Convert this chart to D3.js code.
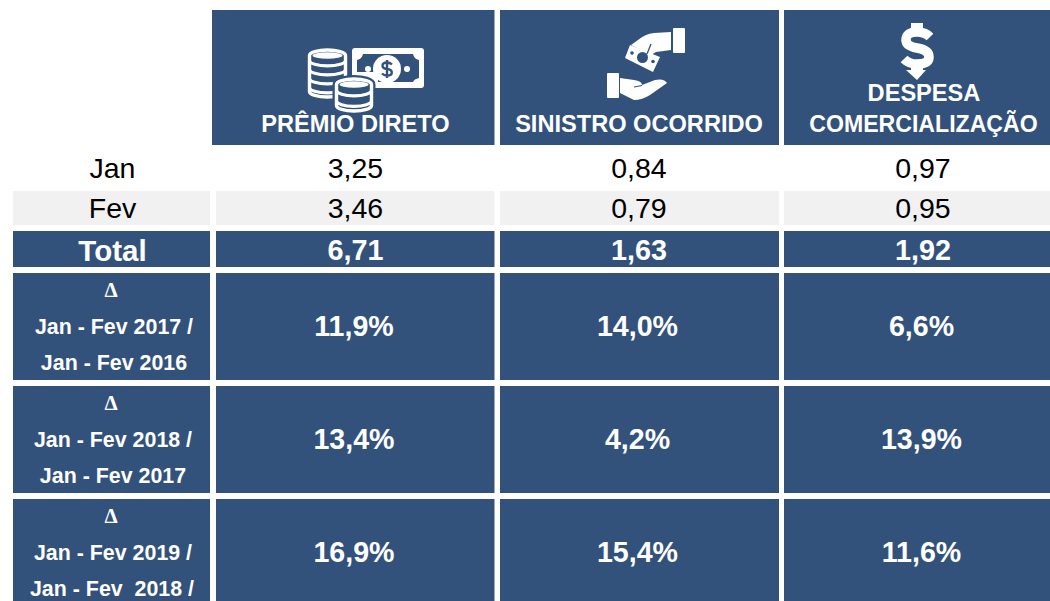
<!DOCTYPE html>
<html><head><meta charset="utf-8">
<script src="https://cdn.jsdelivr.net/npm/d3@7/dist/d3.min.js"></script>
<style>html,body{margin:0;padding:0;background:#fff;overflow:hidden}svg{display:block}text{font-family:"Liberation Sans",Arial,sans-serif}</style>
</head><body><svg id="c" width="1050" height="601"></svg>
<script>
const months = ["Jan","Fev"];
const premio = [3.25,3.46];
const sinistro = [0.84,0.79];
const despesa = [0.97,0.95];
const totals = [6.71,1.63,1.92];
const deltaLabels = [["Jan - Fev 2017 /","Jan - Fev 2016"],["Jan - Fev 2018 /","Jan - Fev 2017"],["Jan - Fev 2019 /","Jan - Fev  2018 /"]];
const deltaPremio = [11.9,13.4,16.9];
const deltaSinistro = [14.0,4.2,15.4];
const deltaDespesa = [6.6,13.9,11.6];
const headers = [["PRÊMIO DIRETO"],["SINISTRO OCORRIDO"],["DESPESA","COMERCIALIZAÇÃO"]];

const BLUE="#32527c", GREY="#f1f1f1", WHITE="#fff";
const svg=d3.select("#c");
const fmt=(v,d)=>v.toFixed(d).replace(".",",");
const colKeys=["label","a","b","c"];
const x0=d3.scaleOrdinal(colKeys,[13,216,500,784]);
const x1=d3.scaleOrdinal(colKeys,[210,494.5,779,1050]);
const xc=d3.scaleOrdinal(colKeys,[112.5,355.5,639,923]);
const rowKeys=["head","r0","r1","total","d0","d1","d2"];
const y0=d3.scaleOrdinal(rowKeys,[10,146,191,231,273,386,499]);
const y1=d3.scaleOrdinal(rowKeys,[145,186,225,267,380,493,601]);
const yc=d3.scaleOrdinal(rowKeys,[0,167.5,207.5,250,326,439,552]);

function cell(col,row,fill){
  svg.append("rect").attr("x",x0(col)).attr("y",y0(row)).attr("width",x1(col)-x0(col)).attr("height",y1(row)-y0(row)).attr("fill",fill);
}
function txt(x,y,s,size,bold,fill,family){
  const t=svg.append("text").attr("x",x).attr("y",y).attr("text-anchor","middle").attr("dominant-baseline","central")
    .attr("font-size",size).attr("font-weight",bold?700:400).attr("fill",fill).style("white-space","pre").text(s);
  if(family)t.style("font-family",family);
  return t;
}
[["a",212,494.5],["b",500,779],["c",784,1050]].forEach(([k,a,b])=>{
  svg.append("rect").attr("x",a).attr("y",10).attr("width",b-a).attr("height",135).attr("fill",BLUE);
});
txt(355.5,123.5,headers[0][0],23.6,true,WHITE);
txt(639,123.5,headers[1][0],23.6,true,WHITE);
txt(924,92.5,headers[2][0],23.6,true,WHITE);
txt(923.5,123.5,headers[2][1],23.1,true,WHITE);

const series=[premio,sinistro,despesa];
months.forEach((m,i)=>{
  const r="r"+i;
  colKeys.forEach(k=>{ if(i===1) cell(k,r,GREY); });
  txt(xc("label"),yc(r),m,28.5,false,"#000");
  series.forEach((s,j)=>txt(xc(colKeys[j+1]),yc(r),fmt(s[i],2),28.5,false,"#000"));
});
colKeys.forEach(k=>cell(k,"total",BLUE));
txt(xc("label"),yc("total"),"Total",29.5,true,WHITE);
totals.forEach((v,j)=>txt(xc(colKeys[j+1]),yc("total"),fmt(v,2),28.8,true,WHITE));
const deltas=[deltaPremio,deltaSinistro,deltaDespesa];
deltaLabels.forEach((lab,i)=>{
  const r="d"+i;
  colKeys.forEach(k=>cell(k,r,BLUE));
  txt(111,yc(r)-36,"Δ",21,true,WHITE,"'Liberation Serif',serif");
  txt(114-(i?1:0),yc(r)+1,lab[0],21.4,true,WHITE);
  txt(114-(i?1:0)-(i===2?1:0),yc(r)+37,lab[1],21.4,true,WHITE);
  deltas.forEach((d,j)=>txt(xc(colKeys[j+1])-1.5,yc(r),fmt(d[i],1)+"%",28.6,true,WHITE));
});

// ---- icons ----
const ic=svg.append("g").attr("fill",WHITE);
const note=ic.append("g");
note.append("rect").attr("x",352).attr("y",48).attr("width",72).attr("height",40).attr("rx",3);
note.append("path").attr("fill",BLUE).attr("d","M363 54 H413 Q414 59 419 60 V78 Q414 79 413 82 H378 V72 H357 V60 Q362 59 363 54Z");
note.append("circle").attr("cx",387).attr("cy",69).attr("r",14);
note.append("circle").attr("cx",368).attr("cy",69).attr("r",3);
note.append("circle").attr("cx",407).attr("cy",69).attr("r",3);
note.append("path").attr("fill","none").attr("stroke",BLUE).attr("stroke-width",2.4)
  .attr("d","M392 64.5 Q390 62.5 387 62.5 Q382.5 62.5 382.5 65.8 Q382.5 68.6 387 69 Q391.8 69.5 391.8 72.4 Q391.8 75.5 387 75.5 Q384 75.5 382 73.5 M387 60 V78");
function coins(cx,top,bottom,rx,n,knock){
  const g=ic.append("g");
  const ry=5.5, h=(bottom-top-2*ry)/n;
  const d=`M${cx-rx} ${top+ry} A${rx} ${ry} 0 0 1 ${cx+rx} ${top+ry} V${bottom-ry} A${rx} ${ry} 0 0 1 ${cx-rx} ${bottom-ry}Z`;
  if(knock) g.append("path").attr("fill",BLUE).attr("stroke",BLUE).attr("stroke-width",8).attr("d",d);
  g.append("path").attr("fill",BLUE).attr("stroke",WHITE).attr("stroke-width",3.4).attr("d",d);
  g.append("ellipse").attr("cx",cx).attr("cy",top+ry).attr("rx",rx-3).attr("ry",ry-2.3).attr("fill",WHITE);
  d3.range(n).forEach(i=>{
    const y=top+ry+(i+0.55)*h;
    g.append("path").attr("fill","none").attr("stroke",WHITE).attr("stroke-width",3.2)
     .attr("d",`M${cx-rx} ${y} A${rx} ${ry} 0 0 0 ${cx+rx} ${y}`);
  });
}
coins(327.5,50,97,18,4,false);
coins(354,79,111,17.5,2,true);

// hands
const hands=ic.append("g");
hands.append("rect").attr("x",673).attr("y",28).attr("width",12).attr("height",25).attr("rx",1);
hands.append("path").attr("d","M671 32 L654 33 Q645 34 638 40 L631 45 L651 55 L656 52 L671 50Z");
hands.append("path").attr("d","M630 45 L660 57 L653 72 L625 58Z");
hands.append("circle").attr("cx",642.5).attr("cy",57.5).attr("r",5.5).attr("fill",BLUE);
hands.append("circle").attr("cx",632).attr("cy",53).attr("r",1.8).attr("fill",BLUE);
hands.append("circle").attr("cx",653).attr("cy",61.5).attr("r",1.8).attr("fill",BLUE);
hands.append("path").attr("fill","none").attr("stroke",BLUE).attr("stroke-width",1.3).attr("d","M651 44 L647 54");
hands.append("rect").attr("x",607).attr("y",73).attr("width",12).attr("height",25).attr("rx",1);
hands.append("path").attr("d","M620 78 L634 80 Q642 81 642 85 L655 80 Q664 78 667 83 L650 95 Q642 100 634 100 L620 93Z");
hands.append("path").attr("fill","none").attr("stroke",BLUE).attr("stroke-width",1.2).attr("d","M634 87 L642 85.5");

// dollar with arrow
const dol=ic.append("g");
dol.append("rect").attr("x",911).attr("y",23).attr("width",12).attr("height",8);
dol.append("path").attr("fill","none").attr("stroke",WHITE).attr("stroke-width",9.5)
  .attr("d","M930 37 Q925 32 917 32 Q906 32 906 40 Q906 46 917 48 Q929 50 929 57 Q929 64 917 64 Q909 64 904 59");
dol.append("path").attr("d","M911 66 H923 V70 H926 L917 80 L906 70 H911Z");
</script></body></html>
